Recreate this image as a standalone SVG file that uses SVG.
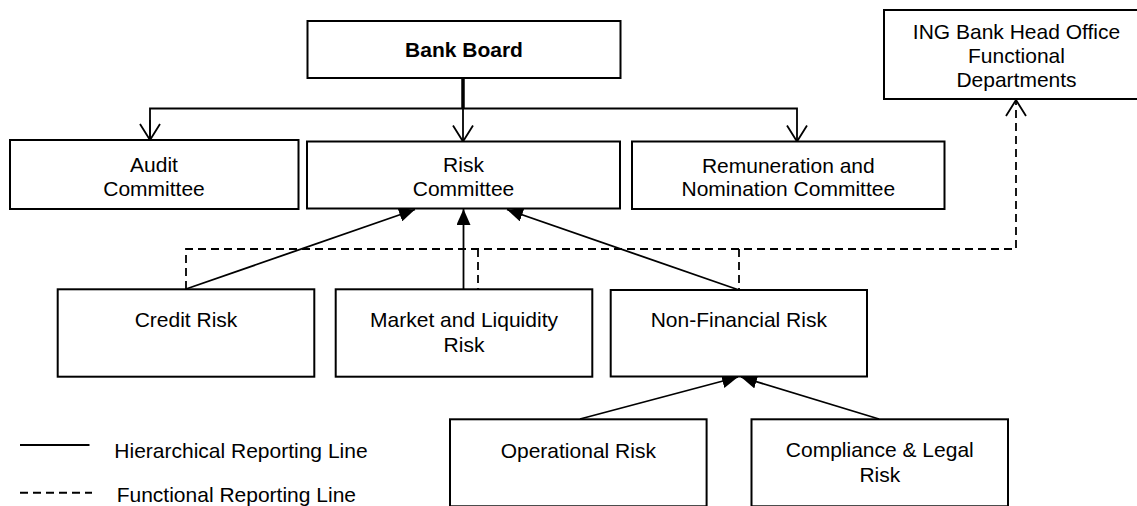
<svg xmlns="http://www.w3.org/2000/svg" width="1137" height="506" viewBox="0 0 1137 506">
<style>
.box{fill:#fff;stroke:#000;stroke-width:2}
.t{font-family:"Liberation Sans",Arial,sans-serif;font-size:21px;fill:#000;text-anchor:middle}
.tl{font-family:"Liberation Sans",Arial,sans-serif;font-size:21px;fill:#000}
.b{font-weight:bold}
.ln{fill:none;stroke:#000;stroke-width:1.8}
.dash{fill:none;stroke:#000;stroke-width:1.8;stroke-dasharray:8,5}
</style>
<defs>
<marker id="fill" viewBox="0 0 16 14" refX="16" refY="7" markerWidth="16" markerHeight="14" markerUnits="userSpaceOnUse" orient="auto">
<path d="M0,0 L16,7 L0,14 z" fill="#000"/>
</marker>
<marker id="open" viewBox="-2 -2 20 24" refX="16" refY="10" markerWidth="20" markerHeight="24" markerUnits="userSpaceOnUse" orient="auto">
<path d="M0,0 L16,10 L0,20" fill="none" stroke="#000" stroke-width="1.8"/>
</marker>
</defs>
<rect width="1137" height="506" fill="#fff"/>
<g id="connectors">
<line x1="463" y1="78" x2="463" y2="109" stroke="#000" stroke-width="3.5"/>
<polyline class="ln" points="150,140 150,108.5 797,108.5 797,141.5" marker-end="url(#open)"/>
<line class="ln" x1="150" y1="120" x2="150" y2="140" marker-end="url(#open)"/>
<line class="ln" x1="463" y1="108.5" x2="463" y2="141.5" marker-end="url(#open)"/>
<line class="ln" x1="186" y1="289" x2="415" y2="209.5" marker-end="url(#fill)"/>
<line class="ln" x1="463.5" y1="289" x2="463.5" y2="209" marker-end="url(#fill)"/>
<line class="ln" x1="739" y1="290" x2="507" y2="209.5" marker-end="url(#fill)"/>
<line class="ln" x1="580" y1="419" x2="738" y2="377" marker-end="url(#fill)"/>
<line class="ln" x1="879" y1="419" x2="741" y2="377" marker-end="url(#fill)"/>
<polyline class="dash" points="186,289 186,249 1016,249 1016,100" marker-end="url(#open)"/>
<line class="dash" x1="478" y1="249" x2="478" y2="289"/>
<line class="dash" x1="739" y1="249" x2="739" y2="290"/>
</g>
<g id="bank-board">
<rect class="box" x="307.5" y="21" width="313" height="57"/>
<text class="t b" x="464" y="57">Bank Board</text>
</g>
<g id="audit-committee">
<rect class="box" x="10" y="140" width="288.5" height="69"/>
<text class="t" x="154" y="172">Audit</text>
<text class="t" x="154" y="195.5">Committee</text>
</g>
<g id="risk-committee">
<rect class="box" x="307" y="141.5" width="313" height="67"/>
<text class="t" x="463.5" y="172">Risk</text>
<text class="t" x="463.5" y="195.5">Committee</text>
</g>
<g id="remuneration-committee">
<rect class="box" x="632" y="141.5" width="312.5" height="67.5"/>
<text class="t" x="788.3" y="172.5">Remuneration and</text>
<text class="t" x="788.3" y="196">Nomination Committee</text>
</g>
<g id="ing-head-office">
<rect class="box" x="884" y="10" width="270" height="89"/>
<text class="t" x="1016.5" y="38.5">ING Bank Head Office</text>
<text class="t" x="1016.5" y="63">Functional</text>
<text class="t" x="1016.5" y="87">Departments</text>
</g>
<g id="credit-risk">
<rect class="box" x="57.7" y="289.3" width="256.6" height="87.4"/>
<text class="t" x="186" y="327.3">Credit Risk</text>
</g>
<g id="market-liquidity-risk">
<rect class="box" x="335.7" y="289.3" width="256.6" height="87.4"/>
<text class="t" x="464" y="327.3">Market and Liquidity</text>
<text class="t" x="464" y="351.7">Risk</text>
</g>
<g id="non-financial-risk">
<rect class="box" x="610.7" y="290" width="256.3" height="86.5"/>
<text class="t" x="738.8" y="327.3">Non-Financial Risk</text>
</g>
<g id="operational-risk">
<rect class="box" x="450" y="419.3" width="256.6" height="87"/>
<text class="t" x="578.3" y="458.3">Operational Risk</text>
</g>
<g id="compliance-legal-risk">
<rect class="box" x="751.5" y="419.3" width="256.5" height="87"/>
<text class="t" x="879.8" y="457.3">Compliance &amp; Legal</text>
<text class="t" x="879.8" y="482.3">Risk</text>
</g>
<g id="legend">
<line x1="20" y1="445" x2="89.5" y2="445" stroke="#000" stroke-width="2"/>
<text class="tl" x="114.3" y="458.3">Hierarchical Reporting Line</text>
<line x1="20" y1="492.7" x2="92" y2="492.7" stroke="#000" stroke-width="2" stroke-dasharray="8,5"/>
<text class="tl" x="116.7" y="502">Functional Reporting Line</text>
</g>
</svg>
